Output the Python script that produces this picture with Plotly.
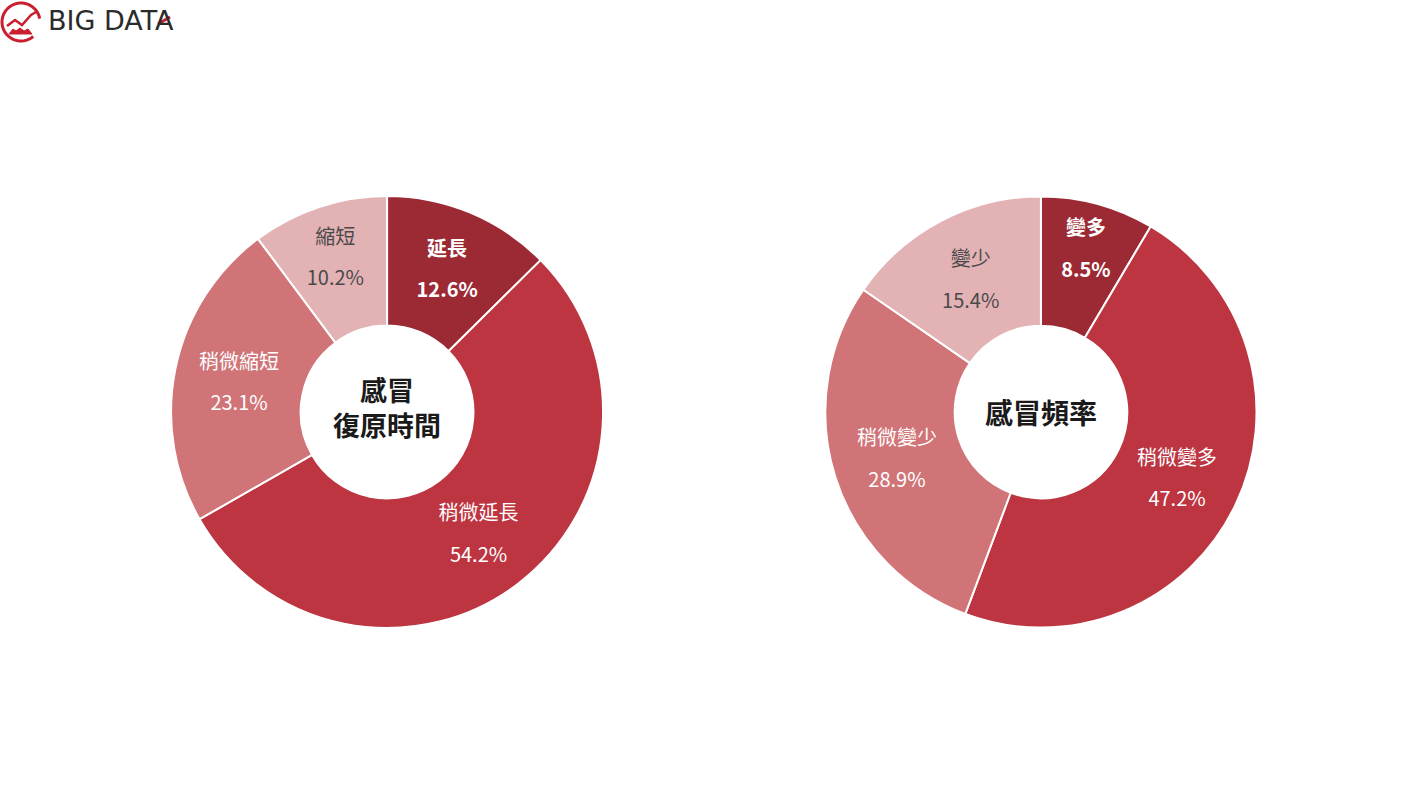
import math
import plotly.graph_objects as go

# Data
recovery_labels = ["延長", "稍微延長", "稍微縮短", "縮短"]
recovery_values = [12.6, 54.2, 23.1, 10.2]
freq_labels = ["變多", "稍微變多", "稍微變少", "變少"]
freq_values = [8.5, 47.2, 28.9, 15.4]

colors = ["#9c2a35", "#bc3541", "#d07477", "#e3b2b5"]
text_colors = ["#ffffff", "#ffffff", "#ffffff", "#4a4a4a"]
S = "<span style='font-size:20px'>"
templates = [
    f"{S}<b>%{{label}}</b></span><br><br>{S}<b>%{{value}}%</b></span>",
    f"{S}%{{label}}</span><br><br>{S}%{{value}}%</span>",
    f"{S}%{{label}}</span><br><br>{S}%{{value}}%</span>",
    f"{S}%{{label}}</span><br><br>{S}%{{value}}%</span>",
]
FONT = "Noto Sans CJK TC"
W, H = 1423, 800

fig = go.Figure()

def add_pie(labels, values, xdom):
    fig.add_trace(go.Pie(
        labels=labels, values=values, sort=False, direction="clockwise", rotation=0,
        hole=0.40, domain=dict(x=xdom, y=[0.215, 0.755]),
        marker=dict(colors=colors, line=dict(color="white", width=2)),
        texttemplate=templates, textposition="inside", insidetextorientation="horizontal",
        textfont=dict(family=FONT, size=16, color=text_colors),
        hoverinfo="label+value", showlegend=False,
    ))

add_pie(recovery_labels, recovery_values, [0.120, 0.424])
add_pie(freq_labels, freq_values, [0.580, 0.883])

fig.add_annotation(x=0.272, y=0.491, xref="paper", yref="paper",
                   text="<b>感冒<br>復原時間</b>",
                   xanchor="center", yanchor="middle",
                   showarrow=False, font=dict(family=FONT, size=27, color="#1a1a1a"))
fig.add_annotation(x=0.7316, y=0.485, xref="paper", yref="paper", text="<b>感冒頻率</b>",
                   xanchor="center", yanchor="middle",
                   showarrow=False, font=dict(family=FONT, size=28, color="#1a1a1a"))

# Logo
def px(x):
    return x / W

def py(y):
    return 1 - y / H

fig.add_annotation(x=px(46), y=py(21), xref="paper", yref="paper", text="BIG DATA",
                   xanchor="left", yanchor="middle", showarrow=False,
                   font=dict(family="DejaVu Sans", size=27, color="#2b2b2b"))
fig.add_shape(type="line", xref="paper", yref="paper",
              x0=px(158), y0=py(24), x1=px(170), y1=py(17),
              line=dict(color="#c8202f", width=3))
pts = []
for k in range(0, 41):
    a = math.radians(-50 - k * 7.5)
    pts.append((21 + 19 * math.cos(a), 22 + 19 * math.sin(a) * -1))
arc = "M " + " L ".join(f"{px(x)} {py(y)}" for x, y in pts)
fig.add_shape(type="path", xref="paper", yref="paper", path=arc,
              line=dict(color="#c8202f", width=3))
fig.add_shape(type="path", xref="paper", yref="paper",
              path=f"M {px(7)} {py(26)} L {px(15)} {py(20)} L {px(22)} {py(25)} L {px(31)} {py(15)} L {px(36)} {py(12)}",
              line=dict(color="#c8202f", width=2.5))
fig.add_shape(type="path", xref="paper", yref="paper",
              path=f"M {px(9)} {py(34)} L {px(13)} {py(29)} L {px(16)} {py(31)} L {px(20)} {py(28)} L {px(24)} {py(31)} L {px(28)} {py(29)} L {px(32)} {py(34)} Z",
              fillcolor="#c8202f", line=dict(color="#c8202f", width=1))

fig.update_layout(width=W, height=H, margin=dict(l=0, r=0, t=0, b=0),
                  paper_bgcolor="white", plot_bgcolor="white")

fig.write_html("out.html", config={"displayModeBar": False},
               post_script="document.body.style.margin='0';")
